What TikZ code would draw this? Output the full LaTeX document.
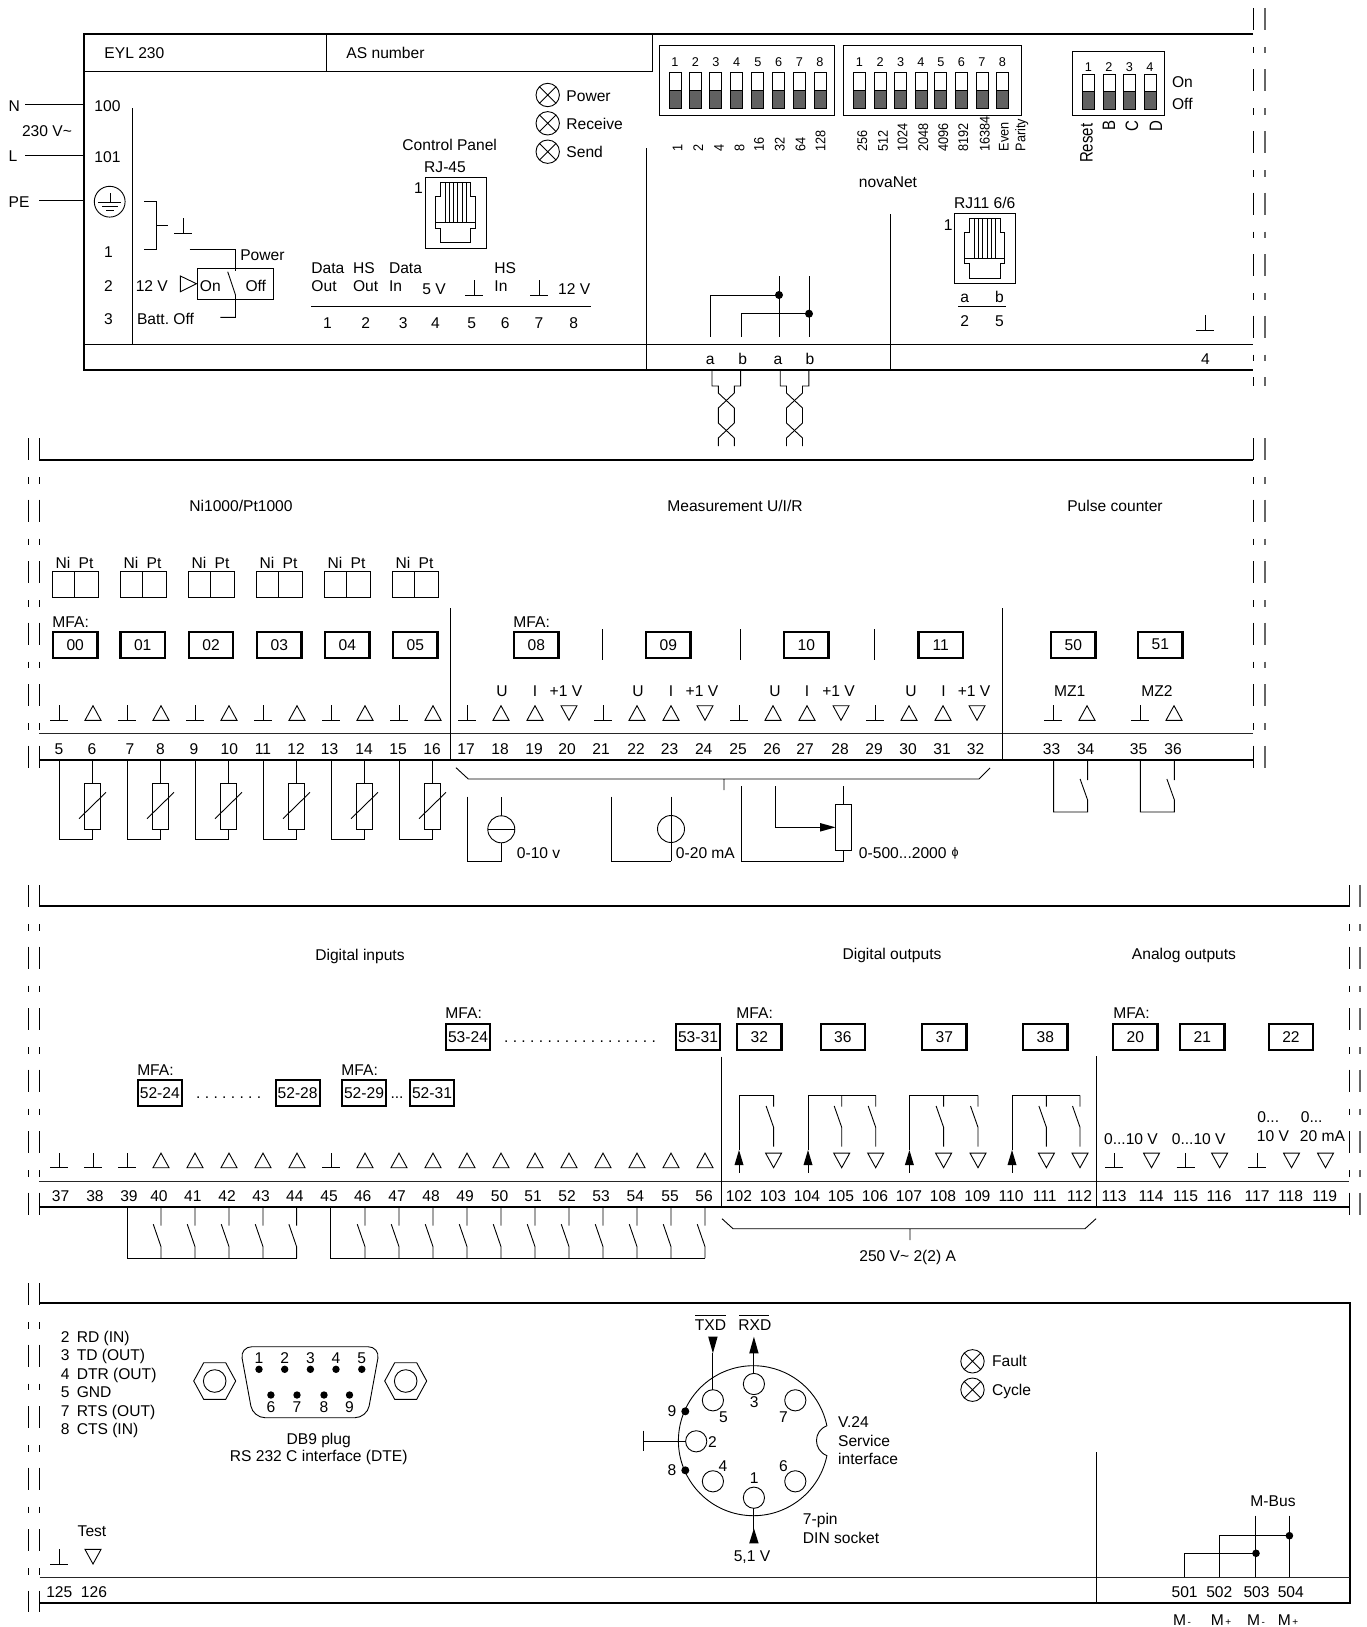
\documentclass[tikz,border=0pt]{standalone}
\usepackage{fontspec}
\setmainfont{Liberation Sans}
\frenchspacing
\newcount\labc
\newcommand\lab[4][base]{\global\advance\labc by 1 \node[txt,anchor=#1,yshift=-5.6pt,name=lab\the\labc] at (#2,#3) {#4};}
\newcommand\rlab[3]{\global\advance\labc by 1 \node[txtr,name=lab\the\labc] at (#1+4.6,#2) {\scalebox{1}[1.1]{#3}};}
\newcommand\gnd[2]{\draw (#1-9,#2) -- (#1+9,#2) (#1,#2) -- (#1,#2-15);}
\newcommand\trU[2]{\draw (#1-8,#2) -- (#1+8,#2) -- (#1,#2-14.6) -- cycle;}
\newcommand\trD[2]{\draw (#1-8,#2-14.6) -- (#1+8,#2-14.6) -- (#1,#2) -- cycle;}
\newcommand\led[2]{\draw (#1,#2) circle [radius=11.7] (#1-8.3,#2-8.3) -- (#1+8.3,#2+8.3) (#1-8.3,#2+8.3) -- (#1+8.3,#2-8.3);}
\newcommand\nbox[3]{\global\advance\labc by 1 \node[nb,anchor=north west,name=lab\the\labc] at (#1,#2) {\raisebox{-1.5pt}{#3}};}
\newcommand\mbx[3]{\global\advance\labc by 1 \node[nbb,anchor=north west,name=lab\the\labc] at (#1,#2) {\raisebox{-1.5pt}{#3}};}
\newcommand\rjack[2]{
  \draw (#1-30.3,#2) rectangle (#1+30.3,#2+70.6);
  \draw (#1-15.2,#2+5) -- (#1+15.2,#2+5) -- (#1+15.2,#2+19) -- (#1+20,#2+19) -- (#1+20,#2+50.6) -- (#1+15.2,#2+50.6) -- (#1+15.2,#2+65) -- (#1-15.2,#2+65) -- (#1-15.2,#2+50.6) -- (#1-20,#2+50.6) -- (#1-20,#2+19) -- (#1-15.2,#2+19) -- cycle;
  \draw (#1-20,#2+45) -- (#1+20,#2+45);
  \foreach \q in {-10.5,-6.3,-2.1,2.1,6.3,10.5} {\draw[line width=.7pt] (#1+\q,#2+5) -- (#1+\q,#2+45);}
}
\newcommand\twist[1]{
  \foreach \s in {-1,1} {\draw (#1+\s*14.3,370) -- (#1+\s*14.3,386) -- (#1+\s*8,386) -- (#1+\s*8,393) -- (#1-\s*8,408) -- (#1-\s*8,423) -- (#1+\s*8,438) -- (#1+\s*8,446);}
}
\newcommand\dip[4]{% x, top, bottom, split
  \fill[dipfill] (#1-6,#4) rectangle (#1+6,#3);
  \draw (#1-6,#2) rectangle (#1+6,#3) (#1-6,#4) -- (#1+6,#4);
}
\newcommand\dashes[3]{
  \draw[dash pattern=on 22pt off 17pt on 6.5pt off 16pt] (#1,#2) -- (#1,#3);
}
\newcommand\dashesg[3]{
  \draw[dash pattern=on 22pt off 17pt on 6.5pt off 16pt,line width=1.3pt,draw=black!60] (#1,#2) -- (#1,#3);
}
\newcommand\relay[1]{\draw (#1,1095.3) -- (#1,1106.7) (#1-7.5,1106) -- (#1,1127.3) -- (#1,1146.7);}
\newcommand\farrow[1]{\fill (#1-4.5,1165) -- (#1+4.5,1165) -- (#1,1150) -- cycle; \draw (#1,1165) -- (#1,1172.7);}
\newcommand\inp[1]{\draw (#1,1207) -- (#1,1225.7) (#1-7.7,1224.3) -- (#1,1246.7) -- (#1,1258);}
\newcommand\hexn[2]{\draw (#1-21,#2) -- (#1-11,#2-18.3) -- (#1+11,#2-18.3) -- (#1+21,#2) -- (#1+11,#2+18.3) -- (#1-11,#2+18.3) -- cycle (#1,#2) circle [radius=11.3];}
\begin{document}
\begin{tikzpicture}[x=1pt,y=-1pt,line width=.9pt,line cap=butt,
  txt/.style={inner sep=0pt,font=\fontsize{15.6}{18}\selectfont},
  txtr/.style={inner sep=0pt,rotate=90,anchor=base west,font=\fontsize{12.7}{14}\selectfont},
  nb/.style={draw,line width=2.2pt,inner sep=0pt,outer sep=0pt,minimum width=44.5pt,minimum height=26pt,font=\fontsize{15.6}{18}\selectfont},
  nbb/.style={nb,minimum width=44pt},
  frame/.style={line width=2.5pt},
  dipfill/.style={fill=black!62},
  rotlab/.style={inner sep=0pt,rotate=90,anchor=base east,font=\fontsize{15}{17}\selectfont}]
\path[use as bounding box] (0,0) rectangle (1367,1627);

% ---------- Panel 1
\draw[frame] (1253,34) -- (84,34) -- (84,370) -- (1253,370);
\draw (84,344.5) -- (1253,344.5);
\draw (646,148) -- (646,370) (890.6,214) -- (890.6,370);
\draw (84,71.5) -- (652,71.5) -- (652,34) (326.5,34) -- (326.5,71.5);
\dashes{1253}{8}{386}\dashesg{1265}{8}{386}
\lab[base west]{104}{52.7}{EYL 230}
\lab[base west]{346}{52.7}{AS number}
\draw (25,104.3) -- (84,104.3) (25,155) -- (84,155) (39,200.3) -- (84,200.3);
\lab{14.3}{105.7}{N}\lab{13}{155.7}{L}\lab{47}{130.7}{230 V\textasciitilde}\lab{19}{202}{PE}
\lab{107.5}{106}{100}\lab{107.5}{157}{101}
\draw (109.7,201.7) circle [radius=15.4];
\draw (110,193.3) -- (110,202.7) (98.4,202.7) -- (121.4,202.7) (102,206.7) -- (118,206.7) (106,210.7) -- (114,210.7);
\lab{108.4}{251.7}{1}\lab{108.4}{285.7}{2}\lab{108.4}{319.3}{3}
\draw (132.3,108.3) -- (132.3,344.5);
\draw (144,201) -- (156,201) -- (156,249.3) -- (144,249.3) (156,225.3) -- (167.8,225.3);
\gnd{183.4}{233.3}
\draw (189.5,249.3) -- (235.5,249.3) -- (235.5,270.7);
\draw (197.3,268.3) rectangle (273.6,299.3);
\draw (227.7,271.7) -- (235.5,295) -- (235.5,317.3) -- (220.3,317.3);
\lab[base west]{239.8}{255}{Power}
\lab{151.8}{285.7}{12 V}
\draw (180.4,276) -- (180.4,291.7) -- (196.4,283.7) -- cycle;
\lab{210.3}{285.7}{On}\lab{255.8}{285.7}{Off}
\lab[base west]{136.6}{319.3}{Batt. Off}
\lab[base west]{311}{267.7}{Data}\lab[base west]{311}{286}{Out}
\lab[base west]{352.6}{267.7}{HS}\lab[base west]{352.6}{286}{Out}
\lab[base west]{388.6}{267.7}{Data}\lab[base west]{388.6}{286}{In}
\lab[base west]{422}{289.3}{5 V}
\gnd{474.4}{295.3}
\lab[base west]{494}{267.7}{HS}\lab[base west]{494}{286}{In}
\gnd{539}{295.3}
\lab[base west]{557.7}{289.3}{12 V}
\draw (311,306.3) -- (590.6,306.3);
\foreach \x/\tx in {327.4/1,365.6/2,403.3/3,435.4/4,471.8/5,505.2/6,539/7,573.7/8} {\lab{\x}{322.7}{\tx}}
\lab{449.7}{144.7}{Control Panel}\lab{445}{166.7}{RJ-45}\lab{418.5}{187.7}{1}
\rjack{455.7}{177.7}
\led{547.7}{95}\led{547.7}{123.3}\led{547.7}{151.7}
\lab[base west]{566}{95.7}{Power}\lab[base west]{566}{123.7}{Receive}\lab[base west]{566}{151.7}{Send}
% DIP
\draw (659.5,45.3) rectangle (834.7,115.3) (843.3,45.3) rectangle (1021,115.3) (1072.7,51) rectangle (1164.2,115.7);
\foreach \x/\n in {675/1,695.5/2,715.8/3,736.7/4,757.9/5,778.7/6,799.5/7,820/8,859.4/1,880.2/2,900.6/3,921/4,940.9/5,961.3/6,982/7,1002.5/8} {
  \dip{\x}{72.7}{108.3}{90}
  \global\advance\labc by 1
  \node[inner sep=0pt,anchor=base,font=\fontsize{12.7}{14}\selectfont,name=lab\the\labc] at (\x,67) {\n};
}
\foreach \x/\n in {1088.3/1,1109/2,1129.5/3,1150/4} {
  \dip{\x}{74.7}{109.3}{91.7}
  \global\advance\labc by 1
  \node[inner sep=0pt,anchor=base,font=\fontsize{12.7}{14}\selectfont,name=lab\the\labc] at (\x,71.4) {\n};
}
\lab[base west]{1171.6}{81.7}{On}\lab[base west]{1171.6}{103.7}{Off}
\foreach \x/\tx in {677.7/1,698.5/2,719.3/4,739.7/8,759.2/16,780/32,800.8/64,820.8/128,862.4/256,883.2/512,902.7/1024,923.5/2048,943.5/4096,963.5/8192,985/16384,1004/Even,1020.7/Parity} {\rlab{\x}{151.7}{\tx}}
\node[rotlab] (resetl) at (1092.7,123.3) {\scalebox{1}[1.2]{Reset}};
\foreach \x/\tx in {1115.2/B,1138/C,1162/D} {\node[rotlab] (l\tx) at (\x,120) {\scalebox{1}[1.2]{\tx}};}
\lab{888}{182.3}{novaNet}
\lab{984.7}{203.3}{RJ11 6/6}\lab{948.3}{225}{1}
\rjack{984.9}{213.3}
\lab{964.8}{296.7}{a}\lab{999.4}{296.7}{b}
\draw (958,306.7) -- (1006,306.7);
\lab{964.8}{320.7}{2}\lab{999.4}{320.7}{5}
\foreach \x/\tx in {710.2/a,742.7/b,777.9/a,810/b,1205.4/4} {\lab{\x}{359}{\tx}}
\draw (710.6,336.7) -- (710.6,295) -- (779,295) (779,276) -- (779,336.7);
\draw (741,336.7) -- (741,313.7) -- (809,313.7) (809,276) -- (809,336.7);
\fill (779,295) circle [radius=4] (809,313.7) circle [radius=4];
\gnd{1205.4}{330.3}
\twist{726.3}\twist{794.5}

% ---------- Panel 2
\draw[frame] (39,460) -- (1253,460) (39,760) -- (1253,760);
\draw[draw=black!85] (39,733) -- (1253,733);
\draw (450.5,608) -- (450.5,760) (1002.5,608) -- (1002.5,760);
\draw (602,629) -- (602,660) (740.5,629) -- (740.5,660) (874.5,629) -- (874.5,660);
\dashes{39.5}{438}{768}\dashes{28.5}{438}{768}
\dashes{1253}{438}{768}\dashesg{1265}{438}{768}
\lab{241}{505.5}{Ni1000/Pt1000}\lab{735}{505.5}{Measurement U/I/R}\lab{1115}{505.5}{Pulse counter}
\foreach \k in {0,...,5} {
  \draw (52+68*\k,571.3) rectangle (98.4+68*\k,597.7) (74.8+68*\k,571.3) -- (74.8+68*\k,597.7);
  \lab{63+68*\k}{563}{Ni}\lab{86+68*\k}{563}{Pt}
  \gnd{59+68*\k}{720.3}\trU{93+68*\k}{720.3}
  \draw (59+68*\k,760) -- (59+68*\k,839.3) -- (92.6+68*\k,839.3) -- (92.6+68*\k,829.3) (92.6+68*\k,760) -- (92.6+68*\k,783.3);
  \draw (84.5+68*\k,783.3) rectangle (100.6+68*\k,829.3);
  \draw (79+68*\k,818.7) -- (106+68*\k,792.3);
}
\lab[base west]{52}{621.7}{MFA:}\lab[base west]{513}{621.7}{MFA:}
\foreach \x/\tx in {53/00,120.5/01,188.8/02,257/03,325/04,393/05,514/08,646/09,784/10,918.5/11,1051/50,1138/51} {\nbox{\x}{631.7}{\tx}}
\foreach \x/\tx in {502/U,535/I,566/{+1 V},638/U,671/I,702/{+1 V},775/U,807/I,838.6/{+1 V},911/U,943.5/I,974/{+1 V},1069.7/MZ1,1157/MZ2} {\lab{\x}{690.7}{\tx}}
\foreach \x in {467,603,739,875,1053,1140} {\gnd{\x}{720.3}}
\foreach \x in {501,535,637,671,773,807,909,943,1087,1174} {\trU{\x}{720.3}}
\foreach \x in {569,705,841,977} {\trD{\x}{720.3}}
\foreach \x/\tx in {59/5,92/6,130/7,160.5/8,194/9,229.4/10,263/11,296/12,329.6/13,364/14,398/15,432/16,466/17,500/18,534/19,567/20,601/21,636/22,669.6/23,703.7/24,738/25,772/26,805/27,840/28,874/29,908/30,942/31,975.6/32,1051.5/33,1085.7/34,1138.6/35,1173/36} {\lab{\x}{748.7}{\tx}}
\draw (456,767.7) -- (468.3,779) -- (979,779) -- (990,768) (724,779) -- (724,790);
% sources
\draw (467,796.7) -- (467,861.3) -- (501.3,861.3) -- (501.3,796.7);
\draw[fill=white] (501.3,829.3) circle [radius=13.5];
\draw (487.8,829.3) -- (514.8,829.3);
\lab[base west]{516.5}{853}{0-10 v}
\draw (611.4,796.7) -- (611.4,861.3) -- (671,861.3) (671,796.7) -- (671,861.3);
\draw (671,829) circle [radius=13.5];
\lab[base west]{675.5}{853}{0-20 mA}
\draw (741.4,786) -- (741.4,861.3) -- (843.3,861.3) -- (843.3,850) (843.3,786) -- (843.3,804.3);
\draw (835.5,804.3) rectangle (851,850);
\draw (775,786) -- (775,827.3) -- (822,827.3);
\fill (820,823) -- (835.5,827.3) -- (820,831.6) -- cycle;
\lab[base west]{858.5}{853}{0-500...2000}
\global\advance\labc by 1
\node[inner sep=0pt,font=\fontsize{12.5}{13}\selectfont,name=lab\the\labc] at (955,853.5) {ϕ};
\foreach \x in {1053.6,1140.4} {
  \draw (\x,760) -- (\x,812) -- (\x+34,812) -- (\x+34,800) -- (\x+26.5,779) (\x+34,760) -- (\x+34,780);
}

% ---------- Panel 3
\draw[frame] (39,906) -- (1349,906) (39,1207) -- (1349,1207);
\draw[draw=black!85] (39,1181) -- (1349,1181);
\draw (721.7,1056.7) -- (721.7,1207) (1096.6,1056) -- (1096.6,1207);
\dashes{39.5}{885}{1216}\dashes{28.5}{885}{1216}
\dashes{1349}{885}{1216}\dashesg{1360}{885}{1216}
\lab{360}{955}{Digital inputs}\lab{892}{954}{Digital outputs}\lab{1184}{954}{Analog outputs}
\lab[base west]{445}{1013.3}{MFA:}\lab[base west]{136.8}{1070.3}{MFA:}\lab[base west]{341}{1070.3}{MFA:}\lab[base west]{736}{1013.3}{MFA:}\lab[base west]{1112.8}{1013.3}{MFA:}
\foreach \x/\y/\tx in {446/1023.7/53-24,676/1023.7/53-31,137.8/1080.3/52-24,275.6/1080.3/52-28,342/1080.3/52-29,410/1080.3/52-31} {\mbx{\x}{\y}{\tx}}
\foreach \x/\tx in {737/32,820.6/36,922/37,1023/38,1113/20,1180/21,1268.7/22} {\nbox{\x}{1023.7}{\tx}}
\lab{580}{1037}{. . . . . . . . . . . . . . . . . .}
\lab{228.7}{1093}{. . . . . . . .}
\lab{397}{1093}{...}
\foreach \x in {59,93,127,331} {\gnd{\x}{1167.7}}
\foreach \x in {161,195,229,263,297,365,399,433,467,501,535,569,603,637,671,705} {\trU{\x}{1167.7}}
\foreach \x/\tx in {60.6/37,95/38,129/39,159/40,192.8/41,227/42,261/43,294.8/44,329/45,362.7/46,397/47,431/48,465/49,499.5/50,533/51,567/52,601/53,635.4/54,670/55,704/56,739/102,773/103,807/104,841/105,875/106,909/107,943/108,977.4/109,1011/110,1044.7/111,1079.6/112,1114/113,1151/114,1185.5/115,1219/116,1257/117,1290.6/118,1324.7/119} {\lab{\x}{1195.7}{\tx}}
\foreach \x in {739,808,909.4,1012} {\farrow{\x}}
\foreach \x in {773.6,841.7,875.7,943.6,978,1046.4,1080,1151.5,1219.6,1291.5,1325.5} {\trD{\x}{1167.7}}
\foreach \x in {1114,1185.5,1257.4} {\gnd{\x}{1167.7}}
\draw (739,1150) -- (739,1095.3) -- (773.6,1095.3);
\draw (808,1150) -- (808,1095.3) -- (875.7,1095.3);
\draw (909.4,1150) -- (909.4,1095.3) -- (978,1095.3);
\draw (1012,1150) -- (1012,1095.3) -- (1080,1095.3);
\foreach \x in {773.6,841.7,875.7,943.6,978,1046.4,1080} {\relay{\x}}
\draw (722,1218.7) -- (733,1228.7) -- (1085,1228.7) -- (1096,1218.7) (910,1228.7) -- (910,1240);
\lab{907.7}{1255.7}{250 V\textasciitilde{} 2(2) A}
\lab{1131}{1139}{0...10 V}\lab{1198.7}{1139}{0...10 V}
\lab[base west]{1257}{1116.7}{0...}\lab{1273}{1135.7}{10 V}
\lab[base west]{1300.4}{1116.7}{0...}\lab{1322.5}{1135.7}{20 mA}
\draw (127.2,1207) -- (127.2,1258) -- (296.6,1258);
\foreach \x in {161,195,229,263,296.6} {\inp{\x}}
\draw (330.6,1207) -- (330.6,1258) -- (705,1258);
\foreach \x in {365,399,433,467,501,535,569,603,637,671,705} {\inp{\x}}

% ---------- Panel 4
\draw[frame] (39.5,1303) -- (1350,1303) -- (1350,1603) -- (39.5,1603);
\draw[draw=black!85] (39.5,1577) -- (1350,1577);
\draw (1096.4,1452) -- (1096.4,1603);
\dashes{39.5}{1283}{1612}\dashes{28.5}{1283}{1612}
\foreach \y/\n/\tx in {1336.7/2/RD (IN),1354.7/3/TD (OUT),1373.7/4/DTR (OUT),1392.3/5/GND,1410.7/7/RTS (OUT),1429.3/8/CTS (IN)} {
  \lab[base west]{60.5}{\y}{\n}\lab[base west]{76.3}{\y}{\tx}
}
\draw[rounded corners=12pt] (240,1346.7) -- (380,1346.7) -- (367,1417.7) -- (253,1417.7) -- cycle;
\foreach \x/\n in {259/1,284.7/2,310.4/3,336/4,361.8/5} {\fill (\x,1369.3) circle [radius=3.7]; \lab{\x}{1358.3}{\n}}
\foreach \x/\n in {270.9/6,297/7,324/8,349.5/9} {\fill (\x,1395) circle [radius=3.7]; \lab{\x}{1407.3}{\n}}
\hexn{214.7}{1381}\hexn{405.7}{1381}
\lab{318.7}{1439}{DB9 plug}\lab{318.7}{1456.3}{RS 232 C interface (DTE)}
\lab{92}{1530.7}{Test}
\gnd{59}{1564}\trD{93}{1564}
\lab{59.3}{1591.7}{125}\lab{94}{1591.7}{126}
% DIN socket
\draw (753.4,1440.7) ++(11.5:75) arc [start angle=11.5,end angle=348.5,radius=75] .. controls (813,1431) and (813,1450) .. cycle;
\foreach \x/\y in {753.9/1384,712.9/1400.3,795.3/1400.3,696.2/1441.3,712.9/1481.3,795.3/1481.3,753.9/1497.7} {\draw[fill=white] (\x,\y) circle [radius=10.6];}
\foreach \x/\y/\n in {754.3/1401.7/3,723.4/1416.7/5,783.4/1416.7/7,712.4/1441.7/2,722.9/1466/4,783.4/1466/6,754.3/1478/1,672/1410.7/9,672/1470.3/8} {\lab{\x}{\y}{\n}}
\fill (685.3,1411.3) circle [radius=4] (685.3,1470.3) circle [radius=4];
\draw (712.9,1353) -- (712.9,1390);
\fill (708.2,1336.7) -- (717.6,1336.7) -- (712.9,1353.3) -- cycle;
\draw (753.9,1353) -- (753.9,1373.4);
\fill (749.2,1353.3) -- (758.6,1353.3) -- (753.9,1336.7) -- cycle;
\lab{710.5}{1325}{TXD}\lab{754.8}{1325}{RXD}
\draw (695.3,1315.5) -- (725.8,1315.5) (739,1315.5) -- (769,1315.5);
\draw (643.8,1430.7) -- (643.8,1450.7) (643.8,1441.3) -- (685.6,1441.3);
\draw (753.9,1508.3) -- (753.9,1530);
\fill (749.2,1543.3) -- (758.6,1543.3) -- (753.9,1528.3) -- cycle;
\lab{752}{1556}{5,1 V}
\lab[base west]{837.7}{1421.7}{V.24}\lab[base west]{837.7}{1441}{Service}\lab[base west]{837.7}{1459}{interface}
\lab[base west]{802.5}{1519}{7-pin}\lab[base west]{802.5}{1537.7}{DIN socket}
\led{972.5}{1361.3}\led{972.5}{1389.7}
\lab[base west]{991.6}{1361.3}{Fault}\lab[base west]{991.6}{1390}{Cycle}
\lab{1273}{1500.7}{M-Bus}
\foreach \x/\tx in {1184.6/501,1219.3/502,1256.5/503,1290.8/504} {\lab{\x}{1591.7}{\tx}}
\lab{1182}{1620}{M{\fontsize{10}{11}\selectfont\,-}}\lab{1221}{1620}{M{\fontsize{10}{11}\selectfont\,+}}
\lab{1256}{1620}{M{\fontsize{10}{11}\selectfont\,-}}\lab{1288}{1620}{M{\fontsize{10}{11}\selectfont\,+}}
\draw (1184.6,1577) -- (1184.6,1553.3) -- (1256,1553.3) (1255.5,1515.7) -- (1255.5,1577);
\draw (1219.3,1577) -- (1219.3,1535.7) -- (1289.4,1535.7) (1289,1515.7) -- (1289,1577);
\fill (1256,1553.3) circle [radius=3.8] (1289.4,1535.7) circle [radius=3.8];
\end{tikzpicture}
\end{document}
